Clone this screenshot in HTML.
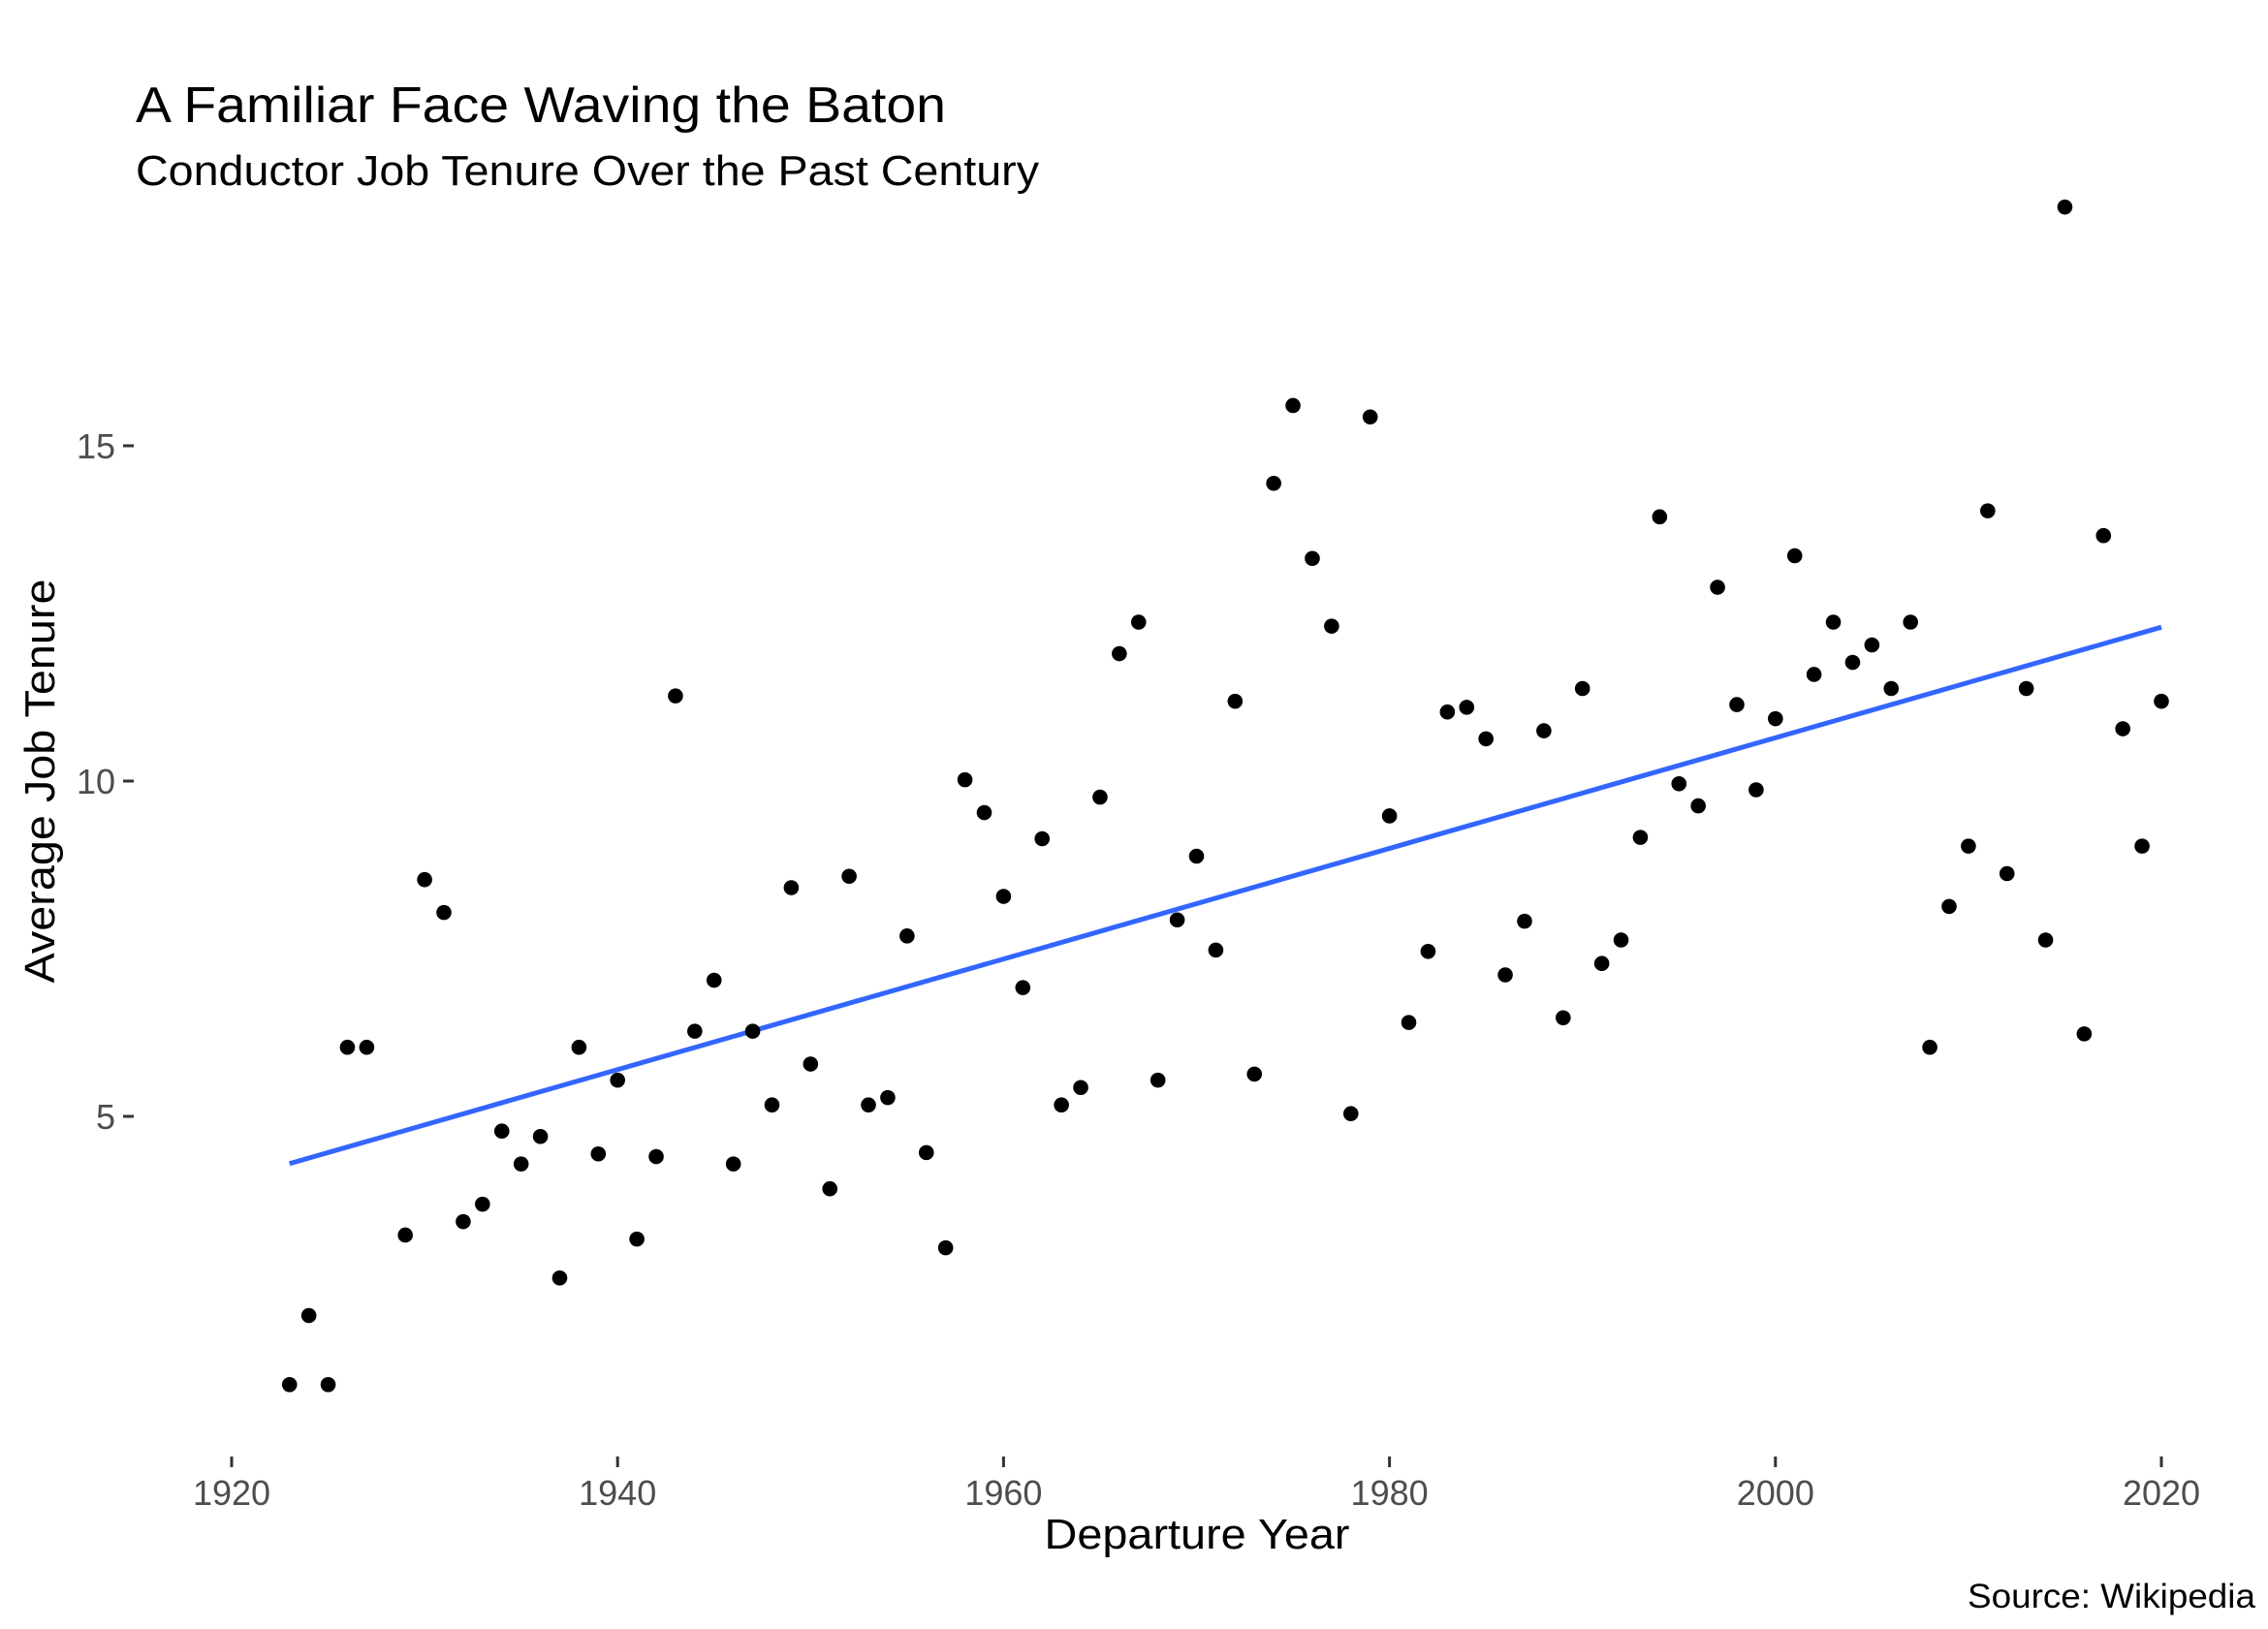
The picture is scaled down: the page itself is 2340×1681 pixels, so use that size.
<!DOCTYPE html>
<html><head><meta charset="utf-8"><style>
html,body{margin:0;padding:0;background:#fff}
svg{display:block;font-family:"Liberation Sans",Arial,sans-serif}
</style></head><body>
<svg id="chart" width="2340" height="1681" viewBox="0 0 2340 1681">
<rect width="2340" height="1681" fill="#fff"/>
<text x="140" y="126" font-size="52" fill="#000" textLength="836" lengthAdjust="spacingAndGlyphs">A Familiar Face Waving the Baton</text>
<text x="140" y="191" font-size="44" fill="#000" textLength="932" lengthAdjust="spacingAndGlyphs">Conductor Job Tenure Over the Past Century</text>
<g id="yaxis"></g>
<g id="xaxis"></g>
<g id="trend"></g>
<g id="points"></g>
<text transform="translate(56,806) rotate(-90)" text-anchor="middle" font-size="44" fill="#000" textLength="417" lengthAdjust="spacingAndGlyphs">Average Job Tenure</text>
<text x="1235" y="1598" text-anchor="middle" font-size="44" fill="#000" textLength="315" lengthAdjust="spacingAndGlyphs">Departure Year</text>
<text x="2327" y="1659" text-anchor="end" font-size="35" fill="#000" textLength="297" lengthAdjust="spacingAndGlyphs">Source: Wikipedia</text>
</svg>
<script>
const years = [1923,1924,1925,1926,1927,1929,1930,1931,1932,1933,1934,1935,1936,1937,1938,1939,1940,1941,1942,1943,1944,1945,1946,1947,1948,1949,1950,1951,1952,1953,1954,1955,1956,1957,1958,1959,1960,1961,1962,1963,1964,1965,1966,1967,1968,1969,1970,1971,1972,1973,1974,1975,1976,1977,1978,1979,1980,1981,1982,1983,1984,1985,1986,1987,1988,1989,1990,1991,1992,1993,1994,1995,1996,1997,1998,1999,2000,2001,2002,2003,2004,2005,2006,2007,2008,2009,2010,2011,2012,2013,2014,2015,2016,2017,2018,2019,2020];
const tenure = [1.0,2.03,1.0,6.03,6.03,3.23,8.53,8.04,3.43,3.69,4.78,4.29,4.7,2.59,6.03,4.44,5.54,3.17,4.4,11.27,6.27,7.03,4.29,6.27,5.17,8.41,5.78,3.92,8.58,5.17,5.28,7.69,4.46,3.04,10.02,9.53,8.28,6.92,9.14,5.17,5.43,9.76,11.9,12.37,5.54,7.93,8.88,7.48,11.19,5.63,14.44,15.6,13.32,12.31,5.04,15.43,9.48,6.4,7.46,11.03,11.1,10.63,7.11,7.91,10.75,6.47,11.38,7.28,7.63,9.16,13.94,9.96,9.63,12.89,11.14,9.87,10.93,13.36,11.59,12.37,11.77,12.03,11.38,12.37,6.03,8.13,9.03,14.03,8.62,11.38,7.63,18.56,6.23,13.66,10.78,9.03,11.19];
const xTicks = [1920,1940,1960,1980,2000,2020];
const yTicks = [5,10,15];

const NS = "http://www.w3.org/2000/svg";
function sx(v){ return 239 + (v - 1920) * (2230 - 239) / 100; }
function sy(v){ return 806 - (v - 10) * 69.2; }
function mk(tag, attrs, parent){ const e = document.createElementNS(NS, tag); for (const k in attrs) e.setAttribute(k, attrs[k]); parent.appendChild(e); return e; }

const ya = document.getElementById('yaxis');
yTicks.forEach(t => {
  const l = mk('line', {x1:127, x2:138, y1:sy(t), y2:sy(t), stroke:'#333', 'stroke-width':3}, ya);
  
  
  const tx = mk('text', {x:119, y:sy(t)+13, 'text-anchor':'end', 'font-size':36, fill:'#4d4d4d'}, ya);
  tx.textContent = t;
  
  
});
const xa = document.getElementById('xaxis');
xTicks.forEach(t => {
  const l = mk('line', {x1:sx(t), x2:sx(t), y1:1503, y2:1514, stroke:'#333', 'stroke-width':3}, xa);
  
  
  const tx = mk('text', {x:sx(t), y:1553, 'text-anchor':'middle', 'font-size':36, fill:'#4d4d4d'}, xa);
  tx.textContent = t;
  
  
});

// linear regression
const n = years.length;
let mx = 0, my = 0;
for (let i = 0; i < n; i++){ mx += years[i]; my += tenure[i]; }
mx /= n; my /= n;
let sxy = 0, sxx = 0;
for (let i = 0; i < n; i++){ sxy += (years[i]-mx)*(tenure[i]-my); sxx += (years[i]-mx)**2; }
const slope = sxy / sxx, icpt = my - slope * mx;
const x0 = Math.min(...years), x1 = Math.max(...years);
const tl = mk('line', {x1:sx(x0), y1:sy(icpt+slope*x0), x2:sx(x1), y2:sy(icpt+slope*x1), stroke:'#3366FF', 'stroke-width':5}, document.getElementById('trend'));



const pg = document.getElementById('points');
for (let i = 0; i < n; i++){
  const c = mk('circle', {cx:sx(years[i]), cy:sy(tenure[i]), r:7.8, fill:'#000'}, pg);
  
  
}
</script>
</body></html>
